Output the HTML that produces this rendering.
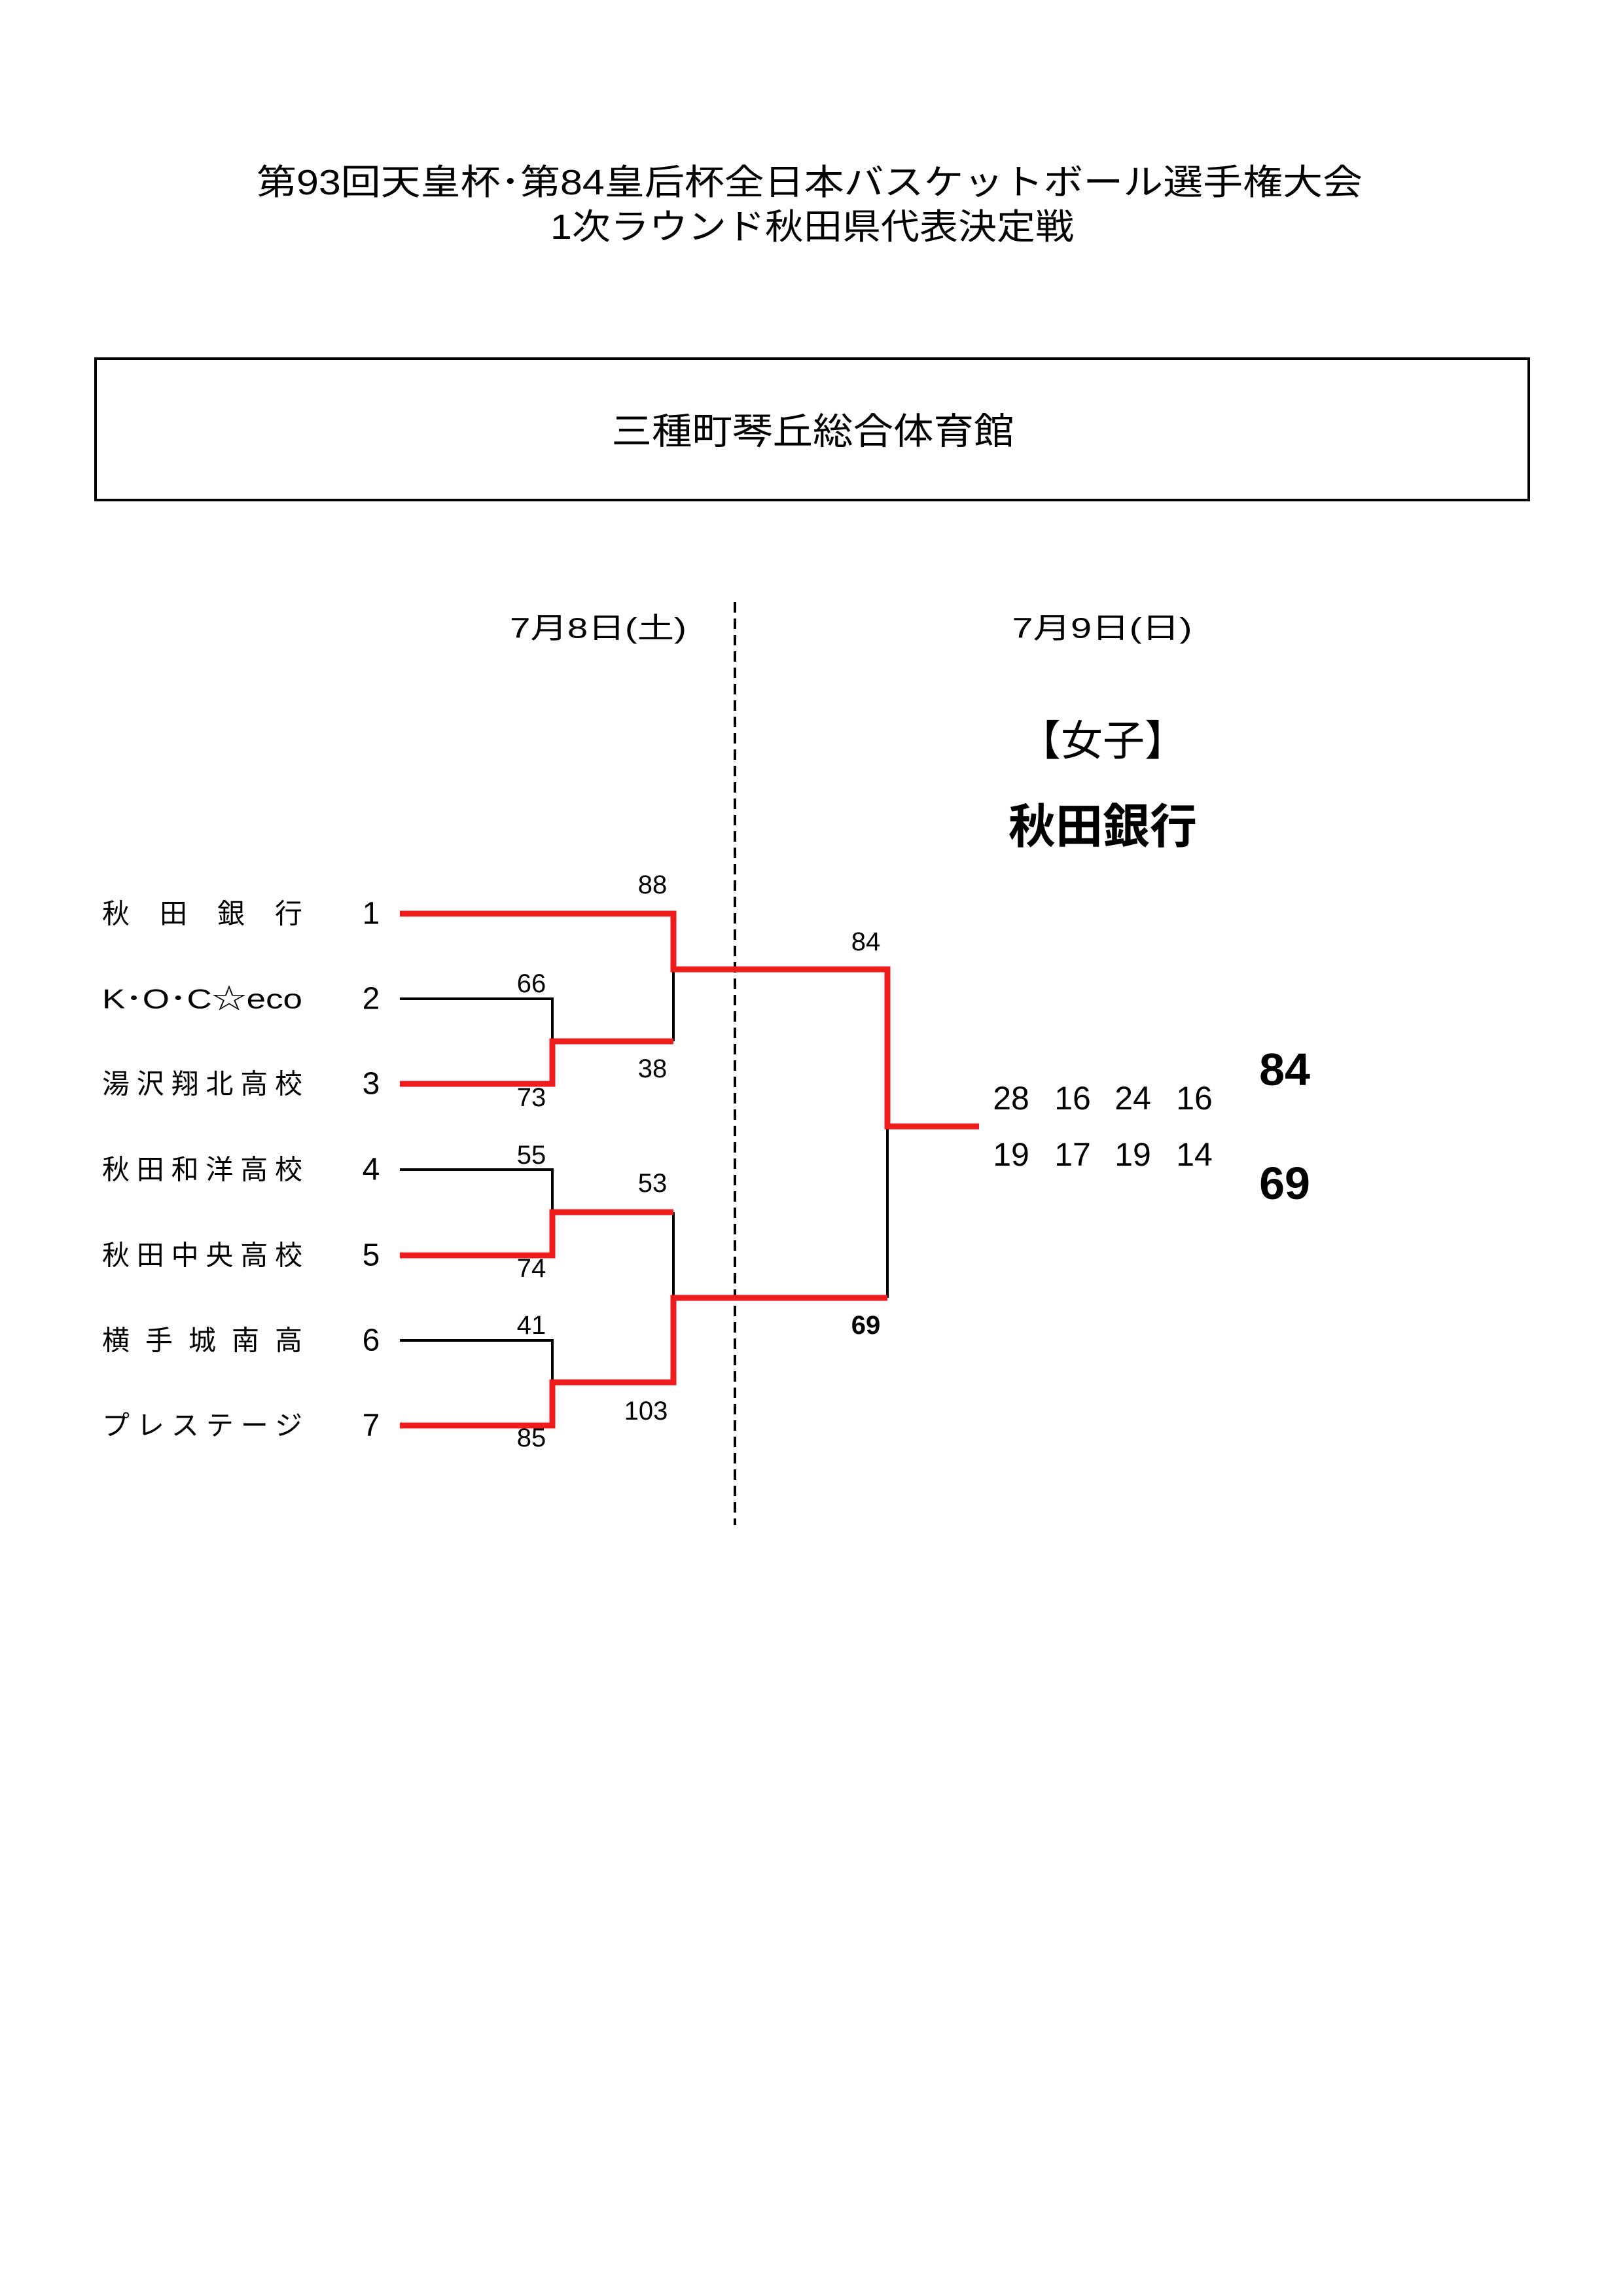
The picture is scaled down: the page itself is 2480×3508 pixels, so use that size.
<!DOCTYPE html>
<html><head><meta charset="utf-8"><style>
html,body{margin:0;padding:0;background:#fff}
svg{display:block}
text{font-family:"Liberation Sans","Noto Sans CJK JP",sans-serif;fill:#000}
</style></head><body>
<svg width="2480" height="3508" viewBox="0 0 2480 3508" xmlns="http://www.w3.org/2000/svg">
<rect width="2480" height="3508" fill="#fff"/>
<text x="1237" y="279" font-size="54" text-anchor="middle" dominant-baseline="central" textLength="1690" lengthAdjust="spacingAndGlyphs">第93回天皇杯･第84皇后杯全日本バスケットボール選手権大会</text>
<text x="1241" y="347" font-size="54" text-anchor="middle" dominant-baseline="central" textLength="800" lengthAdjust="spacingAndGlyphs">1次ラウンド秋田県代表決定戦</text>
<rect x="146" y="548" width="2190" height="216" fill="none" stroke="#000" stroke-width="4"/>
<text x="1242" y="659" font-size="56" text-anchor="middle" dominant-baseline="central" textLength="615" lengthAdjust="spacingAndGlyphs">三種町琴丘総合体育館</text>
<text x="914" y="960" font-size="44" text-anchor="middle" dominant-baseline="central" textLength="270" lengthAdjust="spacingAndGlyphs">7月8日(土)</text>
<text x="1684" y="960" font-size="44" text-anchor="middle" dominant-baseline="central" textLength="275" lengthAdjust="spacingAndGlyphs">7月9日(日)</text>
<line x1="1123" y1="920" x2="1123" y2="2330" stroke="#000" stroke-width="4" stroke-dasharray="16,9"/>
<text x="1685" y="1132" font-size="64" text-anchor="middle" dominant-baseline="central">【女子】</text>
<text x="1685" y="1264" font-size="72" font-weight="bold" text-anchor="middle" dominant-baseline="central">秋田銀行</text>
<g font-size="42" dominant-baseline="central">
<text x="156" y="1396" textLength="306" lengthAdjust="spacing">秋 田 銀 行</text>
<text x="156" y="1526" textLength="306" lengthAdjust="spacingAndGlyphs">K･O･C☆eco</text>
<text x="156" y="1656" textLength="306" lengthAdjust="spacing">湯沢翔北高校</text>
<text x="156" y="1787" textLength="306" lengthAdjust="spacing">秋田和洋高校</text>
<text x="156" y="1918" textLength="306" lengthAdjust="spacing">秋田中央高校</text>
<text x="156" y="2048" textLength="306" lengthAdjust="spacing">横 手 城 南 高</text>
<text x="156" y="2178" textLength="306" lengthAdjust="spacing">プレステージ</text>
</g>
<g font-size="48" text-anchor="middle" dominant-baseline="central">
<text x="567" y="1396">1</text><text x="567" y="1526">2</text><text x="567" y="1656">3</text>
<text x="567" y="1787">4</text><text x="567" y="1918">5</text><text x="567" y="2048">6</text><text x="567" y="2178">7</text>
</g>
<g fill="none" stroke="#000" stroke-width="4">
<polyline points="611,1526 844,1526 844,1591"/>
<polyline points="611,1787 844,1787 844,1852"/>
<polyline points="611,2048 844,2048 844,2112"/>
<line x1="1029" y1="1481" x2="1029" y2="1591"/>
<line x1="1029" y1="1852" x2="1029" y2="1983"/>
<line x1="1356" y1="1721" x2="1356" y2="1983"/>
</g>
<g fill="none" stroke="#ee1c1c" stroke-width="9">
<polyline points="611,1396 1029,1396 1029,1481 1356,1481 1356,1721 1496,1721"/>
<polyline points="611,1656 844,1656 844,1591 1029,1591"/>
<polyline points="611,1918 844,1918 844,1852 1029,1852"/>
<polyline points="611,2178 844,2178 844,2112 1029,2112 1029,1983 1356,1983"/>
</g>
<g font-size="40" text-anchor="middle" dominant-baseline="central">
<text x="997" y="1352">88</text><text x="812" y="1503">66</text><text x="812" y="1677">73</text>
<text x="997" y="1633">38</text><text x="812" y="1765">55</text><text x="997" y="1808">53</text>
<text x="812" y="1938">74</text><text x="812" y="2025">41</text><text x="987" y="2156">103</text>
<text x="812" y="2197">85</text><text x="1323" y="1439">84</text>
<text x="1323" y="2025" font-weight="bold">69</text>
</g>
<g font-size="50" text-anchor="middle" dominant-baseline="central">
<text x="1545" y="1678">28</text><text x="1639" y="1678">16</text><text x="1731" y="1678">24</text><text x="1825" y="1678">16</text>
<text x="1545" y="1764">19</text><text x="1639" y="1764">17</text><text x="1731" y="1764">19</text><text x="1825" y="1764">14</text>
</g>
<g font-size="70" font-weight="bold" text-anchor="middle" dominant-baseline="central">
<text x="1963" y="1634">84</text><text x="1963" y="1808">69</text>
</g>
</svg>
</body></html>
